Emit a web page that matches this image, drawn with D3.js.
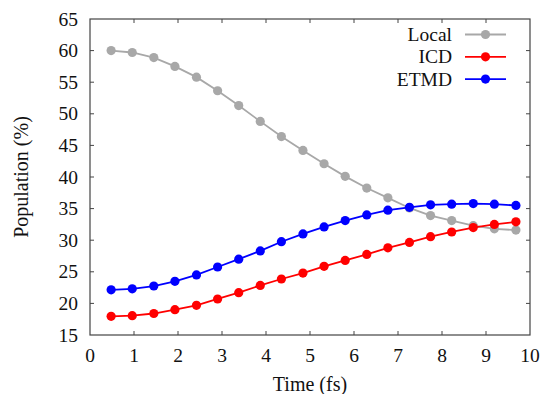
<!DOCTYPE html>
<html>
<head>
<meta charset="utf-8">
<script src="https://cdn.jsdelivr.net/npm/d3@7"></script>
<style>
  body { margin: 0; background: #fff; }
</style>
</head>
<body>
<script>
// time points (fs)
var times = [0.48, 0.96, 1.45, 1.93, 2.42, 2.9, 3.38, 3.87, 4.35, 4.84,
  5.32, 5.8, 6.29, 6.77, 7.26, 7.74, 8.22, 8.71, 9.19, 9.68];
var local = [60.0, 59.7, 58.9, 57.5, 55.8, 53.65, 51.3, 48.8, 46.4, 44.2,
  42.1, 40.1, 38.25, 36.7, 35.1, 33.9, 33.1, 32.3, 31.8, 31.6];
var icd = [17.95, 18.05, 18.4, 19.0, 19.7, 20.7, 21.7, 22.85, 23.86, 24.8,
  25.86, 26.8, 27.75, 28.8, 29.65, 30.55, 31.3, 32.0, 32.5, 32.9];
var etmd = [22.15, 22.3, 22.75, 23.5, 24.5, 25.76, 27.0, 28.3, 29.76, 31.0,
  32.1, 33.1, 34.0, 34.75, 35.2, 35.6, 35.7, 35.8, 35.7, 35.5];
var xTicks = [0, 1, 2, 3, 4, 5, 6, 7, 8, 9, 10];
var yTicks = [15, 20, 25, 30, 35, 40, 45, 50, 55, 60, 65];

var series = [
  { name: "Local", values: local, color: "#a8a8a8" },
  { name: "ICD", values: icd, color: "#ff0000" },
  { name: "ETMD", values: etmd, color: "#0000ff" }
];

var width = 543, height = 394;
var margin = { top: 19, right: 13, bottom: 59, left: 90 };
var font = "'Liberation Serif', 'DejaVu Serif', serif";

var svg = d3.select("body").append("svg")
  .attr("width", width)
  .attr("height", height)
  .attr("font-family", font)
  .style("font-family", font);

var x = d3.scaleLinear().domain([0, 10]).range([margin.left, width - margin.right]);
var y = d3.scaleLinear().domain([15, 65]).range([height - margin.bottom, margin.top]);

var axisColor = "#444";
var tick = 4;

// frame
svg.append("rect")
  .attr("x", x(0)).attr("y", y(65))
  .attr("width", x(10) - x(0)).attr("height", y(15) - y(65))
  .attr("fill", "none").attr("stroke", axisColor).attr("stroke-width", 1.2);

// ticks (inward, mirrored)
var g = svg.append("g").attr("stroke", axisColor).attr("stroke-width", 1);
xTicks.slice(1, -1).forEach(function(t) {
  g.append("line").attr("x1", x(t)).attr("x2", x(t)).attr("y1", y(15)).attr("y2", y(15) - tick);
  g.append("line").attr("x1", x(t)).attr("x2", x(t)).attr("y1", y(65)).attr("y2", y(65) + tick);
});
yTicks.slice(1, -1).forEach(function(t) {
  g.append("line").attr("x1", x(0)).attr("x2", x(0) + tick).attr("y1", y(t)).attr("y2", y(t));
  g.append("line").attr("x1", x(10)).attr("x2", x(10) - tick).attr("y1", y(t)).attr("y2", y(t));
});

// tick labels
svg.append("g").selectAll("text")
  .data(xTicks).enter().append("text")
  .attr("x", d => x(d))
  .attr("y", y(15) + 27)
  .attr("text-anchor", "middle")
  .attr("font-size", 19.5)
  .attr("fill", "#111")
  .text(d => d);

svg.append("g").selectAll("text")
  .data(yTicks).enter().append("text")
  .attr("x", x(0) - 12)
  .attr("y", d => y(d))
  .attr("dy", "0.34em")
  .attr("text-anchor", "end")
  .attr("font-size", 19.5)
  .attr("fill", "#111")
  .text(d => d);

// axis titles
svg.append("text")
  .attr("x", (x(0) + x(10)) / 2)
  .attr("y", 391)
  .attr("text-anchor", "middle")
  .attr("font-size", 20)
  .attr("fill", "#111")
  .text("Time (fs)");

svg.append("text")
  .attr("transform", "translate(28," + (y(40)) + ") rotate(-90)")
  .attr("text-anchor", "middle")
  .attr("font-size", 20)
  .attr("fill", "#111")
  .text("Population (%)");

// lines and markers
var line = d3.line()
  .x((d, i) => x(times[i]))
  .y(d => y(d));

series.forEach(function(s) {
  svg.append("path")
    .datum(s.values)
    .attr("d", line)
    .attr("fill", "none")
    .attr("stroke", s.color)
    .attr("stroke-width", 1.8);
  svg.append("g").selectAll("circle")
    .data(s.values).enter().append("circle")
    .attr("cx", (d, i) => x(times[i]))
    .attr("cy", d => y(d))
    .attr("r", 4.6)
    .attr("fill", s.color);
});

// legend
var legend = svg.append("g").selectAll("g")
  .data(series).enter().append("g")
  .attr("transform", (d, i) => "translate(0," + (34.5 + i * 22.3) + ")");
legend.append("text")
  .attr("x", 452)
  .attr("dy", "0.34em")
  .attr("text-anchor", "end")
  .attr("font-size", 19.5)
  .attr("fill", "#111")
  .text(d => d.name);
legend.append("line")
  .attr("x1", 465).attr("x2", 506)
  .attr("stroke", d => d.color)
  .attr("stroke-width", 1.8);
legend.append("circle")
  .attr("cx", 485.5)
  .attr("r", 4.6)
  .attr("fill", d => d.color);
</script>
</body>
</html>
